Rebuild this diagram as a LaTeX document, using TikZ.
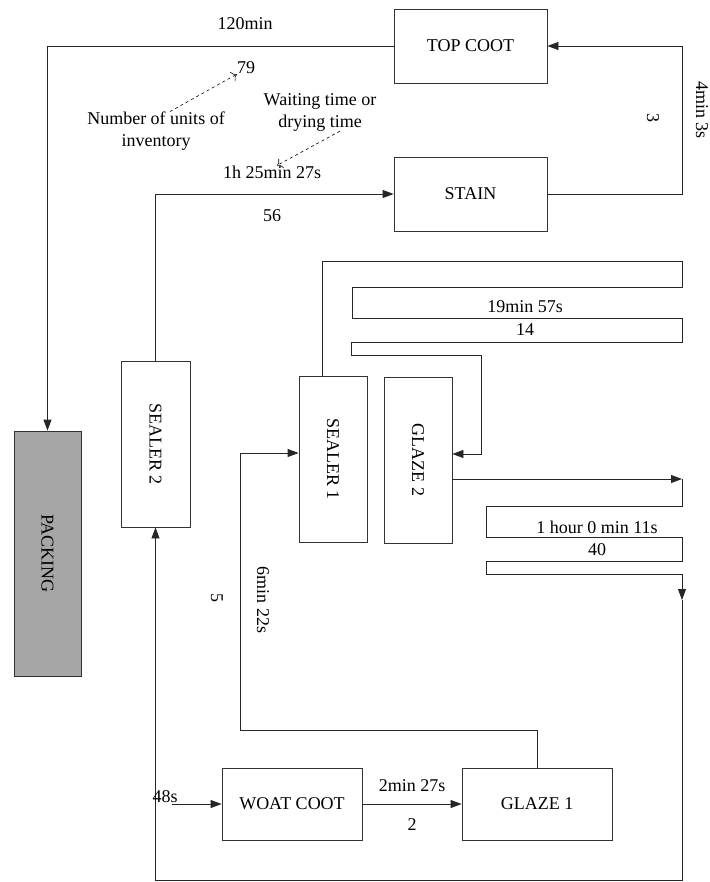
\documentclass[tikz,border=0pt]{standalone}
\usepackage{fontspec}
\setmainfont{Liberation Serif}
\usetikzlibrary{arrows.meta}

\begin{document}
\begin{tikzpicture}[x=1pt,y=-1pt,
  box/.style={draw=black!80,line width=0.8pt,inner sep=0pt,font=\fontsize{18}{22}\selectfont},
  flow/.style={draw=black!85,line width=0.8pt},
  tip/.style={-{Triangle[length=11pt,width=8pt]}},
  lbl/.style={inner sep=0pt,font=\fontsize{18}{22}\selectfont},
  note/.style={dashed,line width=0.6pt,-{To[length=5pt]}}]
\useasboundingbox (0,0) rectangle (709,882);
% stations
\node[box,minimum width=153pt,minimum height=74pt] (top) at (470.5,46) {TOP COOT};
\node[box,minimum width=153pt,minimum height=74pt] (stain) at (470.5,194) {STAIN};
\node[box,fill=black!35,minimum width=67pt,minimum height=245pt] (pack) at (47.5,553.5) {\rotatebox{-90}{PACKING}};
\node[box,minimum width=69pt,minimum height=166pt] (seal2) at (155.5,444) {\rotatebox{-90}{SEALER 2}};
\node[box,minimum width=68pt,minimum height=166pt] (seal1) at (333,459) {\rotatebox{-90}{SEALER 1}};
\node[box,minimum width=68pt,minimum height=166pt] (glaze2) at (418,460) {\rotatebox{-90}{GLAZE 2}};
\node[box,minimum width=140pt,minimum height=72pt] (woat) at (292,804) {WOAT COOT};
\node[box,minimum width=150pt,minimum height=72pt] (glaze1) at (537,804) {GLAZE 1};
\coordinate (in) at (172,804);
% flow lines
\draw[flow,tip] (in) -- (woat.west);
\draw[flow,tip] (woat.east) -- (glaze1.west);
\draw[flow,tip] (glaze1.north) |- (240,730) |- ([yshift=6pt]seal1.west);
\draw[flow] ([xshift=-11pt]seal1.north) |- (682,261) |- (352,287) |- (682,318)
  |- (351,342) |- (481,355);
\draw[flow,tip] (481,355) |- ([yshift=6pt]glaze2.east);
\draw[flow,tip] ([yshift=-19pt]glaze2.east) -- (682,479);
\draw[flow] (682,479) |- (486,506) |- (682,537) |- (486,561) |- (682,574);
\draw[flow,tip] (682,574) -- (682,600);
\draw[flow,tip] (682,600) -- (682,880) -| (seal2.south);
\draw[flow,tip] (seal2.north) |- (stain.west);
\draw[flow,tip] (stain.east) -- ++(135,0) |- (top.east);
\draw[flow,tip] (top.west) -| (pack.north);
% times and inventory
\node[lbl] at (245,24) {120min};
\node[lbl] (inv) at (246,68) {79};
\node[lbl,align=center] (invnote) at (156,131) {Number of units of\\inventory};
\draw[note] ([xshift=14pt]invnote.north) -- (inv.south west);
\node[lbl] (wait) at (272,172) {1h 25min 27s};
\node[lbl,align=center] (waitnote) at (320,112) {Waiting time or\\drying time};
\draw[note] ([xshift=20pt]waitnote.south) -- ([xshift=5pt]wait.north);
\node[lbl] at (272,216) {56};
\node[lbl,rotate=-90] at (653,118) {3};
\node[lbl,rotate=-90] at (702,110) {4min 3s};
\node[lbl] at (525,307) {19min 57s};
\node[lbl] at (525,330) {14};
\node[lbl] at (597,527) {1 hour 0 min 11s};
\node[lbl] at (597,550) {40};
\node[lbl,rotate=-90] at (217,598) {5};
\node[lbl,rotate=-90] at (263,600) {6min 22s};
\node[lbl] at (412,786) {2min 27s};
\node[lbl] at (412,825) {2};
\node[lbl] at (165,797) {48s};
\end{tikzpicture}
\end{document}
